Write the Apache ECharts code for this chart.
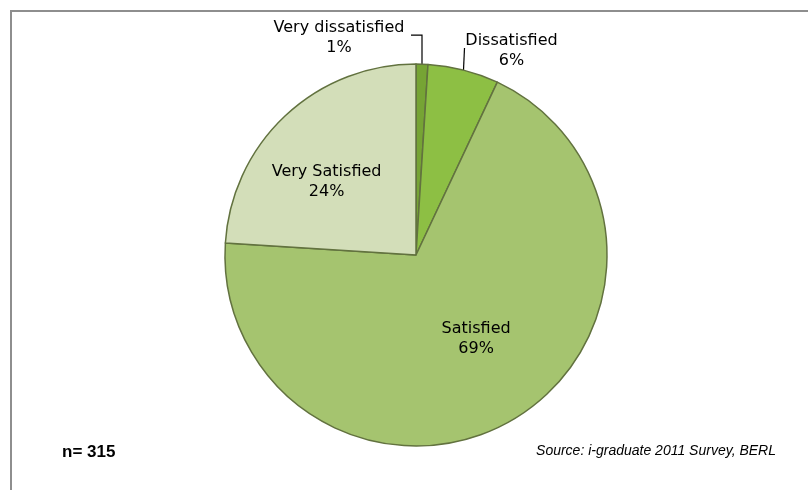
<!DOCTYPE html>
<html>
<head>
<meta charset="utf-8">
<script src="https://cdn.jsdelivr.net/npm/echarts@6/dist/echarts.min.js"></script>
<style>
html, body {margin: 0; padding: 0; background: #fff;}
#chart {width: 808px; height: 490px;}
</style>
</head>
<body>
<div id="chart"></div>
<script>
const categories = ['Very dissatisfied', 'Dissatisfied', 'Satisfied', 'Very Satisfied'];
const shares = [1, 6, 69, 24];
const sampleSize = 315;
const sourceNote = 'Source: i-graduate 2011 Survey, BERL';

const sliceColors = ['#76a434', '#8dbf44', '#a5c46f', '#d3deb9'];
const labelFont = '"DejaVu Sans", sans-serif';
const noteFont = '"Liberation Sans", Arial, sans-serif';

const chart = echarts.init(document.getElementById('chart'), null, {renderer: 'canvas'});

// small slices carry a leader line, the big ones sit inside
const outsideLayout = {
    0: p => ({
        x: p[0] - 83, y: p[1] - 26, align: 'center', verticalAlign: 'middle',
        labelLinePoints: [[p[0], p[1]], [p[0], p[1] - 29], [p[0] - 11, p[1] - 29]],
    }),
    1: p => ({
        x: p[0] + 48, y: p[1] - 19, align: 'center', verticalAlign: 'middle',
        labelLinePoints: [[p[0], p[1]], [p[0] + 1, p[1] - 22]],
    }),
};
const insideNudge = {
    2: {dx: 10, dy: -1},
    3: {dx: -22, dy: -1},
};

chart.setOption({
    animation: false,
    graphic: [{
        type: 'rect',
        shape: {x: 11, y: 11, width: 830, height: 520},
        style: {fill: 'none', stroke: '#8e8e8e', lineWidth: 2},
        silent: true,
    }],
    title: [{
        text: `n= ${sampleSize}`,
        left: 57,
        top: 439,
        textStyle: {fontFamily: noteFont, fontSize: 17, fontWeight: 'bold', color: '#000'},
    }, {
        text: sourceNote,
        right: 27,
        top: 439,
        textStyle: {fontFamily: noteFont, fontSize: 14, fontStyle: 'italic', fontWeight: 'normal', color: '#000'},
    }],
    series: [{
        type: 'pie',
        center: [416, 255],
        radius: 191,
        startAngle: 90,
        clockwise: true,
        avoidLabelOverlap: false,
        itemStyle: {borderColor: '#62723f', borderWidth: 1.5},
        emphasis: {disabled: true},
        label: {
            fontFamily: labelFont,
            fontSize: 16,
            lineHeight: 20,
            color: '#000',
            formatter: x => `${x.name}\n${x.value}%`,
        },
        labelLine: {
            show: true,
            length: 10,
            length2: 10,
            lineStyle: {color: '#000', width: 1.2},
        },
        labelLayout: params => {
            const fn = outsideLayout[params.dataIndex];
            if (fn && params.labelLinePoints) {
                return fn(params.labelLinePoints[0]);
            }
            return insideNudge[params.dataIndex] || {};
        },
        data: categories.map((name, i) => ({
            name,
            value: shares[i],
            itemStyle: {color: sliceColors[i]},
            label: {position: i >= 2 ? 'inside' : 'outside'},
            labelLine: {show: i < 2},
        })),
    }],
});
</script>
</body>
</html>
